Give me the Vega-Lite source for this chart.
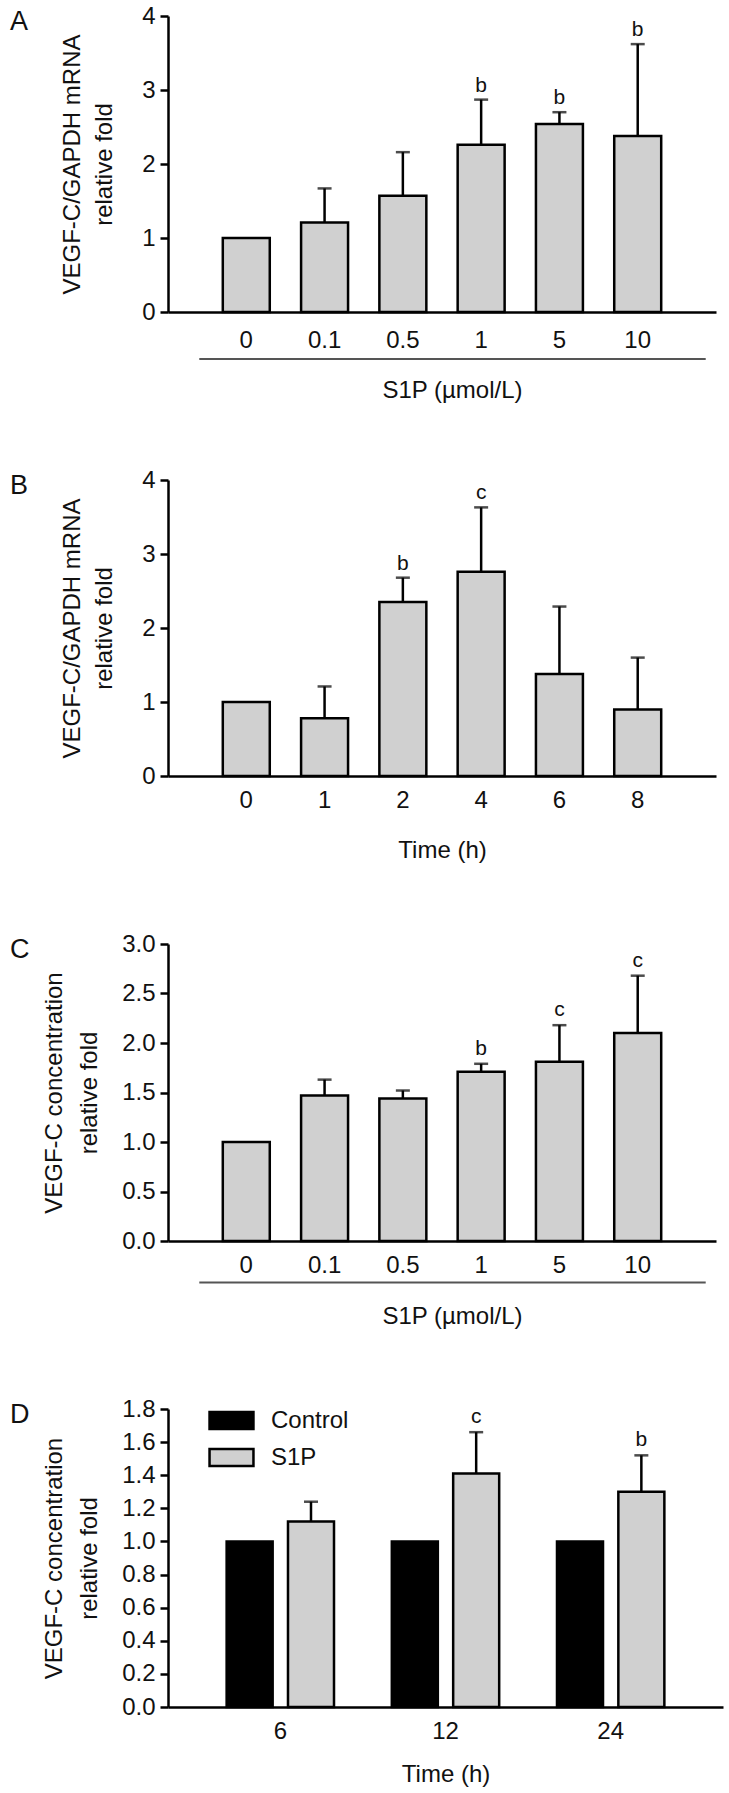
{
  "$schema": "https://vega.github.io/schema/vega-lite/v6.json",
  "background": "white",
  "padding": {"left": 10, "top": 4, "right": 4, "bottom": 4},
  "bounds": "flush",
  "spacing": 168,
  "config": {
    "font": "Liberation Sans",
    "view": {"stroke": null},
    "axis": {"domainColor": "black", "domainWidth": 2.5, "tickColor": "black", "tickWidth": 2.5, "grid": false, "labelColor": "#111", "titleColor": "#111", "labelFontSize": 24, "titleFontSize": 24, "titleFontWeight": "normal", "labelOverlap": false},
    "title": {"fontSize": 27, "fontWeight": "normal", "anchor": "start", "frame": "group", "color": "#111", "offset": 0, "baseline": "top", "dx": -158, "dy": 36}
  },
  "datasets": {
    "A": [
      {"dose": "0", "mean": 1.0, "upper": null, "sig": ""},
      {"dose": "0.1", "mean": 1.21, "upper": 1.67, "sig": ""},
      {"dose": "0.5", "mean": 1.57, "upper": 2.16, "sig": ""},
      {"dose": "1", "mean": 2.26, "upper": 2.87, "sig": "b"},
      {"dose": "5", "mean": 2.54, "upper": 2.70, "sig": "b"},
      {"dose": "10", "mean": 2.38, "upper": 3.62, "sig": "b"}
    ],
    "B": [
      {"time": "0", "mean": 1.0, "upper": null, "sig": ""},
      {"time": "1", "mean": 0.78, "upper": 1.21, "sig": ""},
      {"time": "2", "mean": 2.35, "upper": 2.68, "sig": "b"},
      {"time": "4", "mean": 2.76, "upper": 3.63, "sig": "c"},
      {"time": "6", "mean": 1.38, "upper": 2.29, "sig": ""},
      {"time": "8", "mean": 0.90, "upper": 1.60, "sig": ""}
    ],
    "C": [
      {"dose": "0", "mean": 1.0, "upper": null, "sig": ""},
      {"dose": "0.1", "mean": 1.47, "upper": 1.63, "sig": ""},
      {"dose": "0.5", "mean": 1.44, "upper": 1.52, "sig": ""},
      {"dose": "1", "mean": 1.71, "upper": 1.79, "sig": "b"},
      {"dose": "5", "mean": 1.81, "upper": 2.18, "sig": "c"},
      {"dose": "10", "mean": 2.10, "upper": 2.68, "sig": "c"}
    ],
    "D": [
      {"time": "6", "group": "Control", "mean": 1.0, "upper": null, "sig": ""},
      {"time": "6", "group": "S1P", "mean": 1.12, "upper": 1.24, "sig": ""},
      {"time": "12", "group": "Control", "mean": 1.0, "upper": null, "sig": ""},
      {"time": "12", "group": "S1P", "mean": 1.41, "upper": 1.66, "sig": "c"},
      {"time": "24", "group": "Control", "mean": 1.0, "upper": null, "sig": ""},
      {"time": "24", "group": "S1P", "mean": 1.30, "upper": 1.52, "sig": "b"}
    ]
  },
  "vconcat": [
    {
      "width": 548, "height": 296,
      "title": {"text": "A"},
      "data": {"name": "A"},
      "layer": [
        {
          "mark": {"type": "bar", "fill": "#d0d0d0", "stroke": "black", "strokeWidth": 2.5},
          "encoding": {
            "x": {"field": "dose", "type": "nominal", "sort": null, "scale": {"type": "band", "paddingInner": 0.4, "paddingOuter": 0.7},
              "axis": {"title": "S1P (µmol/L)", "labelAngle": 0, "ticks": false, "tickSize": 0, "labelPadding": 16, "titlePadding": 26, "titleX": 284}},
            "y": {"field": "mean", "type": "quantitative", "scale": {"domain": [0, 4], "nice": false},
              "axis": {"values": [0, 1, 2, 3, 4], "tickCount": 5, "format": "d", "title": ["VEGF-C/GAPDH mRNA", "relative fold"], "tickSize": 8, "labelPadding": 5, "titlePadding": 25, "titleLineHeight": 32}}
          }
        },
        {
          "transform": [{"filter": "datum.upper != null"}],
          "mark": {"type": "rule", "strokeWidth": 2.5, "color": "black"},
          "encoding": {"x": {"field": "dose", "type": "nominal", "sort": null}, "y": {"field": "mean", "type": "quantitative"}, "y2": {"field": "upper"}}
        },
        {
          "transform": [{"filter": "datum.upper != null"}],
          "mark": {"type": "tick", "thickness": 2.5, "size": 14, "color": "black"},
          "encoding": {"x": {"field": "dose", "type": "nominal", "sort": null}, "y": {"field": "upper", "type": "quantitative"}}
        },
        {
          "transform": [{"filter": "datum.sig != ''"}],
          "mark": {"type": "text", "baseline": "alphabetic", "dy": -8, "fontSize": 21, "color": "#111"},
          "encoding": {"x": {"field": "dose", "type": "nominal", "sort": null}, "y": {"field": "upper", "type": "quantitative"}, "text": {"field": "sig"}}
        },
        {
          "data": {"values": [{}]},
          "mark": {"type": "rule", "strokeWidth": 2, "color": "#555", "xOffset": -47, "x2Offset": 68},
          "encoding": {"x": {"datum": "0"}, "x2": {"datum": "10"}, "y": {"datum": -0.635}}
        }
      ]
    },
    {
      "width": 548, "height": 296,
      "title": {"text": "B"},
      "data": {"name": "B"},
      "layer": [
        {
          "mark": {"type": "bar", "fill": "#d0d0d0", "stroke": "black", "strokeWidth": 2.5},
          "encoding": {
            "x": {"field": "time", "type": "nominal", "sort": null, "scale": {"type": "band", "paddingInner": 0.4, "paddingOuter": 0.7},
              "axis": {"title": "Time (h)", "labelAngle": 0, "ticks": false, "tickSize": 0, "labelPadding": 12, "titlePadding": 26}},
            "y": {"field": "mean", "type": "quantitative", "scale": {"domain": [0, 4], "nice": false},
              "axis": {"values": [0, 1, 2, 3, 4], "tickCount": 5, "format": "d", "title": ["VEGF-C/GAPDH mRNA", "relative fold"], "tickSize": 8, "labelPadding": 5, "titlePadding": 25, "titleLineHeight": 32}}
          }
        },
        {
          "transform": [{"filter": "datum.upper != null"}],
          "mark": {"type": "rule", "strokeWidth": 2.5, "color": "black"},
          "encoding": {"x": {"field": "time", "type": "nominal", "sort": null}, "y": {"field": "mean", "type": "quantitative"}, "y2": {"field": "upper"}}
        },
        {
          "transform": [{"filter": "datum.upper != null"}],
          "mark": {"type": "tick", "thickness": 2.5, "size": 14, "color": "black"},
          "encoding": {"x": {"field": "time", "type": "nominal", "sort": null}, "y": {"field": "upper", "type": "quantitative"}}
        },
        {
          "transform": [{"filter": "datum.sig != ''"}],
          "mark": {"type": "text", "baseline": "alphabetic", "dy": -8, "fontSize": 21, "color": "#111"},
          "encoding": {"x": {"field": "time", "type": "nominal", "sort": null}, "y": {"field": "upper", "type": "quantitative"}, "text": {"field": "sig"}}
        }
      ]
    },
    {
      "width": 548, "height": 297,
      "title": {"text": "C"},
      "data": {"name": "C"},
      "layer": [
        {
          "mark": {"type": "bar", "fill": "#d0d0d0", "stroke": "black", "strokeWidth": 2.5},
          "encoding": {
            "x": {"field": "dose", "type": "nominal", "sort": null, "scale": {"type": "band", "paddingInner": 0.4, "paddingOuter": 0.7},
              "axis": {"title": "S1P (µmol/L)", "labelAngle": 0, "ticks": false, "tickSize": 0, "labelPadding": 12, "titlePadding": 27, "titleX": 284}},
            "y": {"field": "mean", "type": "quantitative", "scale": {"domain": [0, 3], "nice": false},
              "axis": {"values": [0, 0.5, 1, 1.5, 2, 2.5, 3], "tickCount": 7, "format": ".1f", "title": ["VEGF-C concentration", "relative fold"], "tickSize": 8, "labelPadding": 5, "titlePadding": 20, "titleLineHeight": 35}}
          }
        },
        {
          "transform": [{"filter": "datum.upper != null"}],
          "mark": {"type": "rule", "strokeWidth": 2.5, "color": "black"},
          "encoding": {"x": {"field": "dose", "type": "nominal", "sort": null}, "y": {"field": "mean", "type": "quantitative"}, "y2": {"field": "upper"}}
        },
        {
          "transform": [{"filter": "datum.upper != null"}],
          "mark": {"type": "tick", "thickness": 2.5, "size": 14, "color": "black"},
          "encoding": {"x": {"field": "dose", "type": "nominal", "sort": null}, "y": {"field": "upper", "type": "quantitative"}}
        },
        {
          "transform": [{"filter": "datum.sig != ''"}],
          "mark": {"type": "text", "baseline": "alphabetic", "dy": -9, "fontSize": 21, "color": "#111"},
          "encoding": {"x": {"field": "dose", "type": "nominal", "sort": null}, "y": {"field": "upper", "type": "quantitative"}, "text": {"field": "sig"}}
        },
        {
          "data": {"values": [{}]},
          "mark": {"type": "rule", "strokeWidth": 2, "color": "#555", "xOffset": -47, "x2Offset": 68},
          "encoding": {"x": {"datum": "0"}, "x2": {"datum": "10"}, "y": {"datum": -0.42}}
        }
      ]
    },
    {
      "width": 555, "height": 298,
      "title": {"text": "D"},
      "data": {"name": "D"},
      "layer": [
        {
          "mark": {"type": "bar", "stroke": "black", "strokeWidth": 2.5},
          "encoding": {
            "x": {"field": "time", "type": "nominal", "sort": null, "scale": {"type": "band", "paddingInner": 0.35, "paddingOuter": 0.355},
              "axis": {"title": "Time (h)", "labelAngle": 0, "ticks": false, "tickSize": 0, "labelPadding": 12, "titlePadding": 19}},
            "xOffset": {"field": "group", "type": "nominal", "sort": null, "scale": {"paddingInner": 0.25, "paddingOuter": 0}},
            "y": {"field": "mean", "type": "quantitative", "scale": {"domain": [0, 1.8], "nice": false},
              "axis": {"values": [0, 0.2, 0.4, 0.6, 0.8, 1.0, 1.2, 1.4, 1.6, 1.8], "tickCount": 10, "format": ".1f", "title": ["VEGF-C concentration", "relative fold"], "tickSize": 8, "labelPadding": 5, "titlePadding": 20, "titleLineHeight": 35}},
            "fill": {"field": "group", "type": "nominal", "scale": {"domain": ["Control", "S1P"], "range": ["#000000", "#d0d0d0"]},
              "legend": {"orient": "none", "legendX": 50, "legendY": 1391, "title": null, "symbolType": "M-1.83,-0.71H1.83V0.71H-1.83Z", "symbolSize": 576, "symbolStrokeColor": "black", "symbolStrokeWidth": 2.5, "labelFontSize": 24, "labelColor": "#111", "labelOffset": 26, "rowPadding": 8}}
          }
        },
        {
          "transform": [{"filter": "datum.upper != null"}],
          "mark": {"type": "rule", "strokeWidth": 2.5, "color": "black"},
          "encoding": {"x": {"field": "time", "type": "nominal", "sort": null}, "xOffset": {"field": "group", "type": "nominal", "sort": null}, "y": {"field": "mean", "type": "quantitative"}, "y2": {"field": "upper"}}
        },
        {
          "transform": [{"filter": "datum.upper != null"}],
          "mark": {"type": "tick", "thickness": 2.5, "size": 14, "color": "black"},
          "encoding": {"x": {"field": "time", "type": "nominal", "sort": null}, "xOffset": {"field": "group", "type": "nominal", "sort": null}, "y": {"field": "upper", "type": "quantitative"}}
        },
        {
          "transform": [{"filter": "datum.sig != ''"}],
          "mark": {"type": "text", "baseline": "alphabetic", "dy": -9, "fontSize": 21, "color": "#111"},
          "encoding": {"x": {"field": "time", "type": "nominal", "sort": null}, "xOffset": {"field": "group", "type": "nominal", "sort": null}, "y": {"field": "upper", "type": "quantitative"}, "text": {"field": "sig"}}
        }
      ]
    }
  ]
}
